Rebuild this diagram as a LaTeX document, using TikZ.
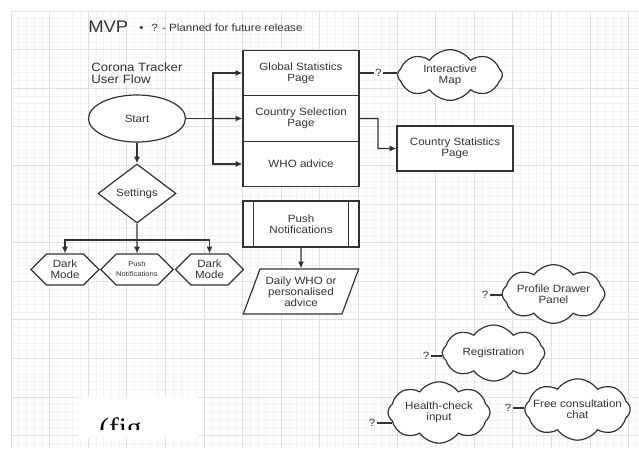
\documentclass[tikz,border=0pt]{standalone}
\usepackage{fontspec}
\setmainfont{Liberation Sans}[FakeStretch=1.1]
\newfontfamily\figfont{Liberation Serif}[FakeStretch=1.1]
\usetikzlibrary{arrows.meta,positioning,shapes.geometric,shapes.symbols}

\definecolor{ink}{HTML}{333333}
\definecolor{gridminor}{HTML}{F3F3F3}
\definecolor{gridmajor}{HTML}{E0E0E0}
\newcommand{\cl}[1]{\makebox[0pt]{#1}}

\begin{document}
\begin{tikzpicture}[
    x=0.75pt, y=-0.75pt,
    node distance=-0.9pt,
    txt/.style={font=\fontsize{7.9}{8.1}\selectfont, text=ink, align=center},
    page/.style={txt, rectangle, draw=ink, line width=0.9pt, fill=white,
                 minimum width=87pt, minimum height=34.1pt, inner sep=0pt},
    startnode/.style={txt, ellipse, draw=ink, line width=0.9pt, fill=white,
                      minimum width=72.75pt, minimum height=35.25pt, inner sep=0pt},
    choice/.style={txt, diamond, draw=ink, line width=0.9pt, fill=white,
                   minimum width=58.5pt, minimum height=44.25pt, inner sep=0pt},
    hexa/.style={txt, signal, signal to=west and east, draw=ink, line width=0.9pt, fill=white,
                 minimum width=51pt, minimum height=23.25pt, inner sep=0pt},
    bubble/.style={txt, cloud, cloud puffs=8, cloud puff arc=110, cloud ignores aspect,
                   draw=ink, line width=0.9pt, fill=white, inner sep=0pt},
    inout/.style={txt, trapezium, trapezium left angle=64, trapezium right angle=116,
                  trapezium stretches=true, draw=ink, line width=0.9pt, fill=white,
                  minimum width=87pt, minimum height=33.75pt, inner sep=0pt},
    qmark/.style={font=\fontsize{7.9}{8}\selectfont, text=ink, inner sep=1pt},
    link/.style={draw=ink, line width=0.9pt},
    flow/.style={link, -{Latex[length=5pt,width=4.5pt]}},
    minor/.style={gridminor, line width=0.5pt},
    major/.style={gridmajor, line width=0.75pt}
]
\useasboundingbox (0,0) rectangle (639,450);
% background grid
\foreach \i in {0,...,81} \draw[minor] ({11+7.72*\i},11) -- ({11+7.72*\i},448);
\foreach \j in {0,...,56} \draw[minor] (11,{11+7.72*\j}) -- (639,{11+7.72*\j});
\foreach \i in {0,...,16} \draw[major] ({11+38.6*\i},11) -- ({11+38.6*\i},448);
\foreach \j in {0,...,11} \draw[major] (11,{11+38.6*\j}) -- (639,{11+38.6*\j});

\node[font=\fontsize{12.6}{13}\selectfont, text=ink, anchor=west, inner sep=0pt] (mvp) at (88,27) {MVP};
\node[font=\fontsize{7.9}{8}\selectfont, text=ink, anchor=west, inner sep=0pt] (note) at (139,27.5)
    {\textbullet\hspace{6pt}? - Planned for future release};
\node[font=\fontsize{9}{9}\selectfont, text=ink, align=left, anchor=north west, inner sep=0pt] (flowtitle)
    at (91,63) {Corona Tracker\\User Flow};

% main flow
\node[startnode] (start) at (137,118.5) {Start};
\node[page] (glob) at (301,73) {Global Statistics\\Page};
\node[page, below=of glob] (ctry) {Country Selection\\Page};
\node[page, below=of ctry] (who) {WHO advice};
\node[bubble, minimum width=78.75pt, minimum height=38pt] (map) at (450,75) {\cl{Interactive}\\\cl{Map}};
\node[page, minimum height=33.75pt] (cstat) at (455,148.5) {Country Statistics\\Page};
\coordinate (fork) at (213,118.5);
\coordinate (bend) at (378,118.5);
\draw[link] (start) -- (fork);
\draw[flow] (fork) -- (ctry);
\draw[flow] (fork) |- (glob);
\draw[flow] (fork) |- (who);
\draw[link] (glob) -- node[qmark, fill=white] (q0) {?} (glob -| map.west);
\draw[flow] (ctry) -- (bend) |- (cstat);

% settings
\node[choice] (set) at (137,193.5) {Settings};
\node[hexa] (dm1) at (65,269.5) {Dark\\Mode};
\node[hexa, font=\fontsize{5.2}{7.5}\selectfont] (pushset) at (137,269.5) {Push\\Notifications};
\node[hexa] (dm2) at (209.5,269.5) {Dark\\Mode};
\coordinate (split) at (137,240);
\draw[flow] (start) -- (set);
\draw[flow] (set) -- (pushset);
\draw[flow] (split) -| (dm1);
\draw[flow] (split) -| (dm2);

% notifications
\node[page, minimum height=34.5pt] (pn) at (301,224) {Push\\Notifications};
\draw[link] ([xshift=8.25pt]pn.north west) -- ([xshift=8.25pt]pn.south west);
\draw[link] ([xshift=-8.25pt]pn.north east) -- ([xshift=-8.25pt]pn.south east);
\node[inout, font=\fontsize{7.9}{8.25}\selectfont] (daily) at (301,291.5) {Daily WHO or\\personalised\\advice};
\draw[flow] (pn) -- (daily);

% planned for later
\node[bubble, minimum width=77pt, minimum height=44pt] (prof) at (553.5,294) {\cl{Profile Drawer}\\\cl{Panel}};
\node[bubble, minimum width=77pt, minimum height=42pt] (reg) at (493.5,353) {\cl{Registration}};
\node[bubble, minimum width=79pt, minimum height=46pt] (chat) at (577.5,409.5)
    {\cl{Free consultation}\\\cl{chat}};
\node[bubble, minimum width=76.5pt, minimum height=46pt] (hc) at (439,412.5) {\cl{Health-check}\\\cl{input}};
\node[qmark] (q1) at (485,295) {?};
\node[qmark] (q2) at (426,356) {?};
\node[qmark] (q3) at (508,408) {?};
\node[qmark] (q4) at (372,423) {?};
\coordinate (hcin) at (392,423);
\draw[link] (q1) -- (q1 -| prof.west);
\draw[link] (q2) -- (q2 -| reg.west);
\draw[link] (q3) -- (q3 -| chat.west);
\draw[link] (q4) -- (hcin);

% cut-off caption
\fill[white] (78,397) rectangle (198,438);
\begin{scope}
\clip (78,397) rectangle (198,429);
\node[anchor=base west, inner sep=0pt, text=black] (figcap) at (99,436) {\figfont\fontsize{20}{20}\selectfont (fig};
\end{scope}
\end{tikzpicture}
\end{document}
